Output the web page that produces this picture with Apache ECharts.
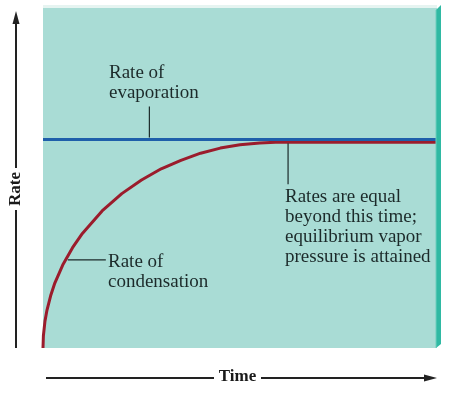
<!DOCTYPE html>
<html><head><meta charset="utf-8">
<script src="https://cdn.jsdelivr.net/npm/echarts@6/dist/echarts.min.js"></script>
<style>html,body{margin:0;padding:0;background:#fff}#c{width:460px;height:393px}</style>
</head><body><div id="c"></div>
<script>
// ---- data ----
const timeValues = [0, 0.1, 0.5, 1, 2, 3, 5, 7.5, 10, 15, 20, 25, 30, 35, 40, 45, 50, 55, 59, 100];
const condensationRate = [0, 3.6, 7.9, 11.1, 15.6, 19.1, 24.4, 29.5, 33.7, 40.3, 45.4, 49.4, 52.7, 55.2, 57.3, 58.8, 59.8, 60.3, 60.5, 60.5];
const evaporationTime = [0, 100];
const evaporationRate = [61.3, 61.3];
const evapLabel = ['Rate of', 'evaporation'];
const equilibriumLabel = ['Rates are equal', 'beyond this time;', 'equilibrium vapor', 'pressure is attained'];
const condLabel = ['Rate of', 'condensation'];
const xAxisName = 'Time';
const yAxisName = 'Rate';
const evapAnchorTime = 27;
const equilibriumAnchorTime = 62.2;
const condAnchor = [6.3, 25.9];

const chart = echarts.init(document.getElementById('c'), null, {renderer: 'canvas'});
const SERIF = '"Liberation Serif", "DejaVu Serif", serif';
const TXT = '#1c2a2a';
const FS = 19;

chart.setOption({
  animation: false,
  grid: {left: 43, top: 8, width: 394, height: 340, show: true, backgroundColor: '#A9DCD5', borderWidth: 0},
  xAxis: {type: 'value', min: 0, max: 100, show: false},
  yAxis: {type: 'value', min: 0, max: 100, show: false},
  series: [
    {type: 'line', data: timeValues.map((t, i) => [t, condensationRate[i]]), showSymbol: false, smooth: false,
     lineStyle: {color: '#9B1C2C', width: 3}, z: 2},
    {type: 'line', data: evaporationTime.map((t, i) => [t, evaporationRate[i]]), showSymbol: false,
     lineStyle: {color: '#1E5FAA', width: 3}, z: 3}
  ]
});

const p = (x, y) => chart.convertToPixel({gridIndex: 0}, [x, y]);
const evapPt = p(evapAnchorTime, evaporationRate[0]);
const eqPt = p(equilibriumAnchorTime, condensationRate[condensationRate.length - 1]);
const condPt = p(condAnchor[0], condAnchor[1]);
const g = [];
const line = (x1, y1, x2, y2, color, w) => g.push({type: 'line', shape: {x1, y1, x2, y2}, style: {stroke: color, lineWidth: w}, z: 10});
const text = (s, x, y) => g.push({type: 'text', x, y, style: {text: s, font: FS + 'px ' + SERIF, fill: TXT, textAlign: 'left', textVerticalAlign: 'middle'}, z: 10});

// panel 3D edges
g.push({type: 'rect', shape: {x: 43, y: 5, width: 394, height: 3}, style: {fill: '#E6F4F1'}, z: 5});
g.push({type: 'polygon', shape: {points: [[436, 10], [441, 5], [441, 344], [436, 348]]}, style: {fill: '#2FB9A3'}, z: 5});
g.push({type: 'line', shape: {x1: 436, y1: 10, x2: 436, y2: 348}, style: {stroke: '#6FCFBE', lineWidth: 1}, z: 6});

// evaporation annotation
line(evapPt[0], evapPt[1] - 2, evapPt[0], evapPt[1] - 33, '#1c2a2a', 1.2);
evapLabel.forEach((s, i) => text(s, 109, 73.5 + i * 20));
// equilibrium annotation
line(eqPt[0], eqPt[1] + 1, eqPt[0], eqPt[1] + 42, '#1c2a2a', 1.2);
equilibriumLabel.forEach((s, i) => text(s, 285, 197 + i * 20));
// condensation annotation
line(condPt[0], condPt[1], condPt[0] + 38, condPt[1], '#1c2a2a', 1.2);
condLabel.forEach((s, i) => text(s, 108, 262.5 + i * 19.5));

// axis arrows
line(16, 348, 16, 210, '#222', 2);
line(16, 168, 16, 20, '#222', 2);
g.push({type: 'polygon', shape: {points: [[16, 11], [12.5, 24], [19.5, 24]]}, style: {fill: '#222'}, z: 10});
g.push({type: 'text', x: 16, y: 189, rotation: Math.PI / 2, style: {text: yAxisName, font: 'bold 17px ' + SERIF, fill: '#1a1a1a', textAlign: 'center', textVerticalAlign: 'middle'}, z: 10});
line(46, 378, 214, 378, '#222', 2);
line(261, 378, 428, 378, '#222', 2);
g.push({type: 'polygon', shape: {points: [[437, 378], [424, 374.5], [424, 381.5]]}, style: {fill: '#222'}, z: 10});
g.push({type: 'text', x: 237.5, y: 377, style: {text: xAxisName, font: 'bold 17px ' + SERIF, fill: '#1a1a1a', textAlign: 'center', textVerticalAlign: 'middle'}, z: 10});

chart.setOption({graphic: {elements: g}});
</script></body></html>
